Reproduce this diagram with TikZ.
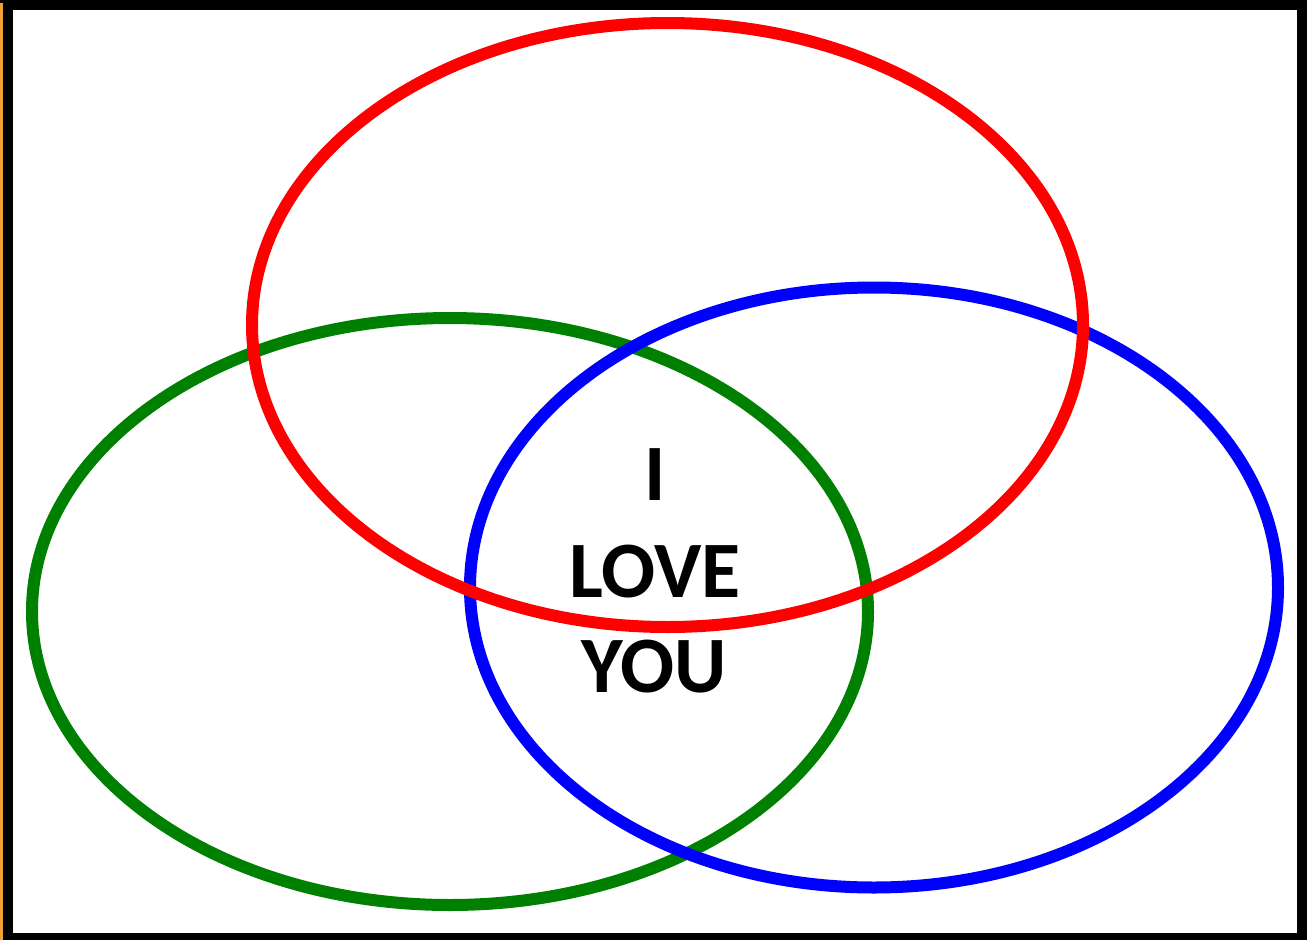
\documentclass[tikz,border=0pt]{standalone}
\usepackage{fontspec}
\setmainfont{Carlito}
\definecolor{vgreen}{RGB}{0,128,0}
\definecolor{frameorange}{RGB}{240,160,50}
\begin{document}
\begin{tikzpicture}[x=1pt,y=-1pt,
  ring/.style={line width=12pt},
  word/.style={anchor=base,inner sep=0pt,font=\fontsize{80}{96}\selectfont\bfseries}]
\useasboundingbox (0,0) rectangle (1307,940);
\fill[black] (0,0) rectangle (1307,940);
\fill[frameorange] (0,3) rectangle (3,940);
\fill[white] (13,10) rectangle (1297,933);
\draw[ring,vgreen] (450,611.5) ellipse [x radius=418, y radius=293.5];
\draw[ring,blue] (874,587.5) ellipse [x radius=404, y radius=300];
\draw[ring,red] (667.5,325) ellipse [x radius=415.5, y radius=302];
\node[word] (w1) at (655,500) {I};
\node[word] (w2) at (655,597) {LOVE};
\node[word] (w3) at (654,692) {YOU};
\end{tikzpicture}
\end{document}
